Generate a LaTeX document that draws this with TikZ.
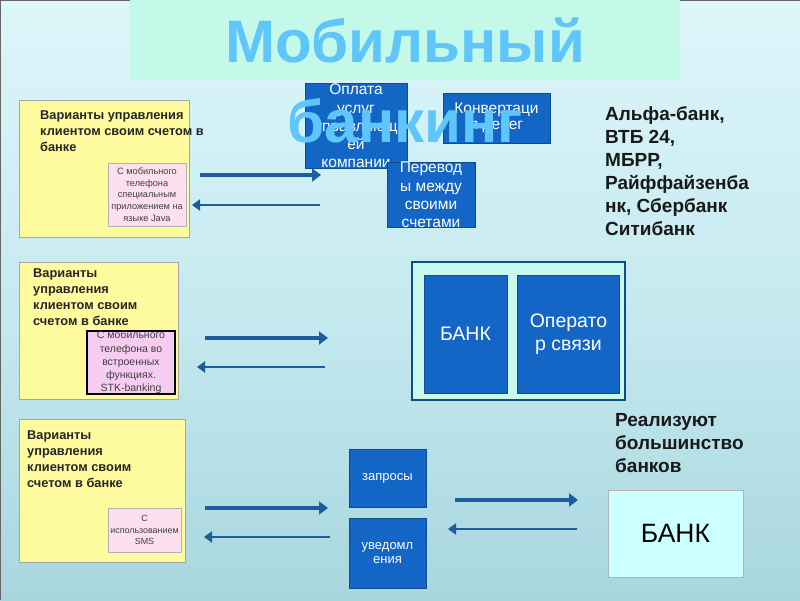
\documentclass[tikz,border=0pt]{standalone}
\usepackage{fontspec}
\setmainfont{Liberation Sans}
\usetikzlibrary{arrows.meta}
\definecolor{bgtop}{HTML}{DDF6FA}
\definecolor{bgmid}{HTML}{C6EAF0}
\definecolor{bgbot}{HTML}{A9D6DE}
\definecolor{mint}{HTML}{C4F8E8}
\definecolor{titlecol}{HTML}{5EC6FA}
\definecolor{yel}{HTML}{FDFB9E}
\definecolor{pinkA}{HTML}{FCE0EE}
\definecolor{pinkB}{HTML}{F6CCF0}
\definecolor{bluebox}{HTML}{1366C6}
\definecolor{blueedge}{HTML}{0E4C8E}
\definecolor{arrowc}{HTML}{1C5DA0}
\definecolor{bankbg}{HTML}{CCFFFF}
\definecolor{bigmint}{HTML}{C8F8EE}
\tikzset{
  box/.style={anchor=north west, inner sep=0pt, outer sep=0pt},
  yelbox/.style={box, draw=gray!70, fill=yel, line width=0.6pt},
  pinkbox/.style={draw=gray!60, fill=pinkA, line width=0.6pt, inner sep=0pt, align=center, text=black!75},
  bluebx/.style={draw=blueedge, fill=bluebox, line width=1pt, inner sep=0pt, align=center, text=white},
  ytext/.style={anchor=north west, inner sep=0pt, align=left, font=\bfseries\fontsize{12.8}{16.2}\selectfont, text=black!85},
  bigtext/.style={anchor=north west, inner sep=0pt, align=left, font=\bfseries\fontsize{19}{23}\selectfont, text=black!90},
  rarrow/.style={draw=arrowc, line width=3.5pt, -{Triangle[length=9pt,width=13pt]}},
  larrow/.style={draw=arrowc, line width=2pt, -{Triangle[length=8pt,width=11pt]}},
  titletext/.style={anchor=base, inner sep=0pt, text=titlecol, font=\bfseries\fontsize{60}{70}\selectfont}
}
\begin{document}
\begin{tikzpicture}[x=1pt,y=-1pt]
\useasboundingbox (0,0) rectangle (800,600);
\shade[top color=bgtop, bottom color=bgbot, middle color=bgmid] (0,0) rectangle (800,600);
\draw[gray!80!black, line width=1pt] (0,600) -- (0,0.5) -- (800,0.5);
% title box
\node[box, fill=mint, minimum width=550pt, minimum height=80pt] (tbox) at (130,0) {};

% row 1
\node[yelbox, minimum width=170pt, minimum height=137pt] (y1) at (19,100) {};
\node[ytext] (y1t) at (40,110) {Варианты управления\\клиентом своим счетом в\\банке};
\node[pinkbox, minimum width=78pt, minimum height=63pt, font=\fontsize{9.2}{11.7}\selectfont] (p1) at (147,194.5) {С мобильного\\телефона\\специальным\\приложением на\\языке Java};
\coordinate (r1a) at (200,175); \coordinate (r1b) at (321,175);
\coordinate (l1a) at (320,205); \coordinate (l1b) at (192,205);
\draw[rarrow] (r1a) -- (r1b);
\draw[larrow] (l1a) -- (l1b);

\node[bluebx, minimum width=102pt, minimum height=63pt, font=\fontsize{15.5}{18.3}\selectfont] (bA) at (356,126) {Оплата\\услуг\\управляющ\\ей\\компании};
\node[bluebx, minimum width=107pt, minimum height=50pt, font=\fontsize{15.5}{16}\selectfont] (bB) at (496.5,118) {Конвертаци\\я денег};
\node[bluebx, minimum width=88pt, minimum height=63pt, font=\fontsize{15.5}{18.3}\selectfont] (bC) at (431,195) {Перевод\\ы между\\своими\\счетами};

\node[bigtext] (banks) at (605,106) {Альфа-банк,\\ВТБ 24,\\МБРР,\\Райффайзенба\\нк, Сбербанк\\Ситибанк};

% row 2
\node[yelbox, minimum width=159pt, minimum height=137pt] (y2) at (19,262) {};
\node[ytext] (y2t) at (33,268) {Варианты\\управления\\клиентом своим\\счетом в банке};
\node[pinkbox, draw=black, line width=1.5pt, fill=pinkB, minimum width=88pt, minimum height=62pt, font=\fontsize{10.5}{13.2}\selectfont] (p2) at (131,362.5) {С мобильного\\телефона во\\встроенных\\функциях.\\STK-banking};
\coordinate (r2a) at (205,338); \coordinate (r2b) at (328,338);
\coordinate (l2a) at (325,367); \coordinate (l2b) at (197,367);
\draw[rarrow] (r2a) -- (r2b);
\draw[larrow] (l2a) -- (l2b);

\node[draw=blueedge, line width=1.2pt, fill=bigmint, minimum width=213pt, minimum height=138pt, inner sep=0pt] (big) at (518.5,331) {};
\node[bluebx, minimum width=83pt, minimum height=118pt, font=\fontsize{19.5}{23}\selectfont] (bank2) at (465.5,334) {БАНК};
\node[bluebx, minimum width=102pt, minimum height=118pt, font=\fontsize{19.5}{23}\selectfont] (oper) at (568.5,334) {Операто\\р связи};

% row 3
\node[yelbox, minimum width=166pt, minimum height=143pt] (y3) at (19,419) {};
\node[ytext] (y3t) at (27,430) {Варианты\\управления\\клиентом своим\\счетом в банке};
\node[pinkbox, minimum width=73pt, minimum height=44pt, font=\fontsize{8.9}{11.5}\selectfont] (p3) at (144.5,530) {С\\использованием\\SMS};
\coordinate (r3a) at (205,508); \coordinate (r3b) at (328,508);
\coordinate (l3a) at (330,537); \coordinate (l3b) at (204,537);
\draw[rarrow] (r3a) -- (r3b);
\draw[larrow] (l3a) -- (l3b);

\node[bluebx, minimum width=77pt, minimum height=58pt, font=\fontsize{13}{14.5}\selectfont] (req) at (387.5,478) {запросы};
\node[bluebx, minimum width=77pt, minimum height=70pt, font=\fontsize{13}{14.5}\selectfont] (notif) at (387.5,553) {уведомл\\ения};
\coordinate (r4a) at (455,500); \coordinate (r4b) at (578,500);
\coordinate (l4a) at (577,529); \coordinate (l4b) at (448,529);
\draw[rarrow] (r4a) -- (r4b);
\draw[larrow] (l4a) -- (l4b);

\node[bigtext] (most) at (615,413) {Реализуют\\большинство\\банков};
\node[draw=gray!60, fill=bankbg, minimum width=135pt, minimum height=87pt, inner sep=0pt, font=\fontsize{26.5}{28}\selectfont] (bank3) at (675.5,533.5) {БАНК};

% title text on top
\node[titletext] (t1) at (405,62) {Мобильный};
\node[titletext] (t2) at (405,142) {банкинг};
\end{tikzpicture}
\end{document}
